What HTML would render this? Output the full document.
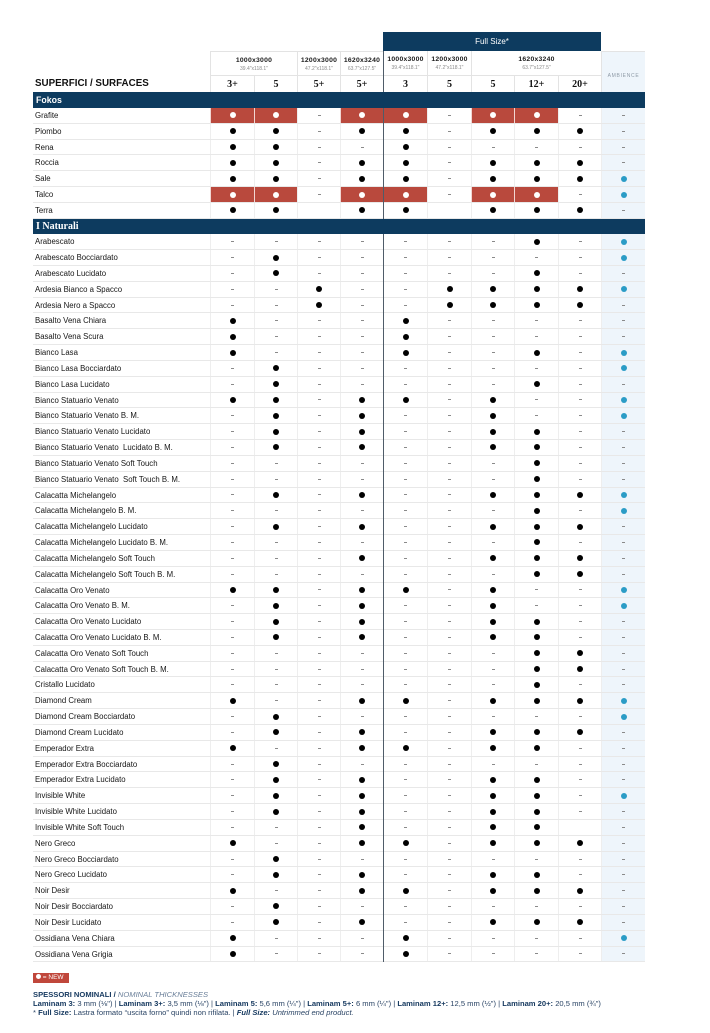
<!DOCTYPE html>
<html><head><meta charset="utf-8">
<style>
*{margin:0;padding:0;box-sizing:border-box}
body{width:710px;height:1033px;background:#fff;position:relative;overflow:hidden;font-family:"Liberation Sans",Arial,sans-serif;color:#111}
.abs{position:absolute}
.fs{left:383px;top:32px;width:218px;height:19px;background:#0d3b5f;color:#fff;font-size:8px;text-align:center;line-height:19px}
.sz{top:51px;height:24px;border-left:1px solid #e3e3e3;border-top:1px solid #e3e3e3;text-align:center}
.sz .a{font-size:6.8px;font-weight:bold;letter-spacing:0.25px;margin-top:5px;line-height:8px;color:#1a1a1a}
.sz .b{font-size:5px;color:#8a8a8a;line-height:7px;margin-top:1px}
.th{top:75px;height:17px;border-left:1px solid #e3e3e3;border-top:1px solid #e3e3e3;text-align:center;font-family:"Liberation Serif",serif;font-weight:bold;font-size:10px;line-height:17px;color:#111}
.amb{left:601px;top:51px;width:44px;height:41px;background:#eef5fb;border-left:1px solid #e3e3e3;border-top:1px solid #e3e3e3;font-size:5px;color:#8e9aa6;letter-spacing:0.7px;text-align:center;padding-top:21px}
.sup{left:35px;top:78px;font-size:9.8px;font-weight:bold;color:#111;line-height:12px}
#tb{position:absolute;left:33px;top:92px;width:612px}
.band{position:relative;z-index:2;background:#0d3b5f;color:#fff;font-weight:bold;padding-left:3px}
.row{display:flex;height:15.83px;border-bottom:1px solid #e8e8e8}
.row b{width:177px;flex:none;font-weight:normal;font-size:7.8px;line-height:16px;padding-left:2px;color:#161616;white-space:nowrap}
.row i{display:flex;flex:none;align-items:center;justify-content:center;border-left:1px solid #eeeeee;height:100%}
.row i:nth-of-type(1){width:44px}
.row i:nth-of-type(2){width:43px}
.row i:nth-of-type(3){width:43px}
.row i:nth-of-type(4){width:43px}
.row i:nth-of-type(5){width:44px}
.row i:nth-of-type(6){width:44px}
.row i:nth-of-type(7){width:43px}
.row i:nth-of-type(8){width:44px}
.row i:nth-of-type(9){width:43px}
.row i:nth-of-type(10){width:44px;background:#eef5fb}
.d::after,.r::after,.t::after{content:"";flex:none;display:block;width:6px;height:6px;border-radius:50%;background:#000}
.n::after{content:"";flex:none;display:block;width:3px;height:1px;background:#8a8a8a}
.row i.r{background:#b9493d;border-left:1px solid #f2d6d2}
.r::after{background:#fff}
.t::after{background:#2b9cc6}
.div{left:382.5px;top:51px;width:1.6px;height:911px;background:#4f5c69;z-index:1}
.ft{left:33px;color:#2a4465;white-space:nowrap}
.ft b{color:#173a60}
</style></head><body>

<div class="abs fs">Full Size*</div>

<div class="abs sz" style="left:210px;width:87px"><div class="a">1000x3000</div><div class="b">39.4"x118.1"</div></div>
<div class="abs sz" style="left:297px;width:43px"><div class="a">1200x3000</div><div class="b">47.2"x118.1"</div></div>
<div class="abs sz" style="left:340px;width:43px"><div class="a">1620x3240</div><div class="b">63.7"x127.5"</div></div>
<div class="abs sz" style="left:383px;width:44px;border-top:none"><div class="a">1000x3000</div><div class="b">39.4"x118.1"</div></div>
<div class="abs sz" style="left:427px;width:44px;border-top:none"><div class="a">1200x3000</div><div class="b">47.2"x118.1"</div></div>
<div class="abs sz" style="left:471px;width:130px;border-top:none"><div class="a">1620x3240</div><div class="b">63.7"x127.5"</div></div>

<div class="abs th" style="left:210px;width:44px">3+</div>
<div class="abs th" style="left:254px;width:43px">5</div>
<div class="abs th" style="left:297px;width:43px">5+</div>
<div class="abs th" style="left:340px;width:43px">5+</div>
<div class="abs th" style="left:383px;width:44px">3</div>
<div class="abs th" style="left:427px;width:44px">5</div>
<div class="abs th" style="left:471px;width:43px">5</div>
<div class="abs th" style="left:514px;width:44px">12+</div>
<div class="abs th" style="left:558px;width:43px">20+</div>
<div class="abs amb">AMBIENCE</div>

<div class="abs sup">SUPERFICI / SURFACES</div>

<div class="abs div"></div>

<div id="tb">
<div class="band" style="height:16px;font-size:8.8px;line-height:16px">Fokos</div>
<div class="row"><b>Grafite</b><i class="r"></i><i class="r"></i><i class="n"></i><i class="r"></i><i class="r"></i><i class="n"></i><i class="r"></i><i class="r"></i><i class="n"></i><i class="n"></i></div>
<div class="row"><b>Piombo</b><i class="d"></i><i class="d"></i><i class="n"></i><i class="d"></i><i class="d"></i><i class="n"></i><i class="d"></i><i class="d"></i><i class="d"></i><i class="n"></i></div>
<div class="row"><b>Rena</b><i class="d"></i><i class="d"></i><i class="n"></i><i class="n"></i><i class="d"></i><i class="n"></i><i class="n"></i><i class="n"></i><i class="n"></i><i class="n"></i></div>
<div class="row"><b>Roccia</b><i class="d"></i><i class="d"></i><i class="n"></i><i class="d"></i><i class="d"></i><i class="n"></i><i class="d"></i><i class="d"></i><i class="d"></i><i class="n"></i></div>
<div class="row"><b>Sale</b><i class="d"></i><i class="d"></i><i class="n"></i><i class="d"></i><i class="d"></i><i class="n"></i><i class="d"></i><i class="d"></i><i class="d"></i><i class="t"></i></div>
<div class="row"><b>Talco</b><i class="r"></i><i class="r"></i><i class="n"></i><i class="r"></i><i class="r"></i><i class="n"></i><i class="r"></i><i class="r"></i><i class="n"></i><i class="t"></i></div>
<div class="row"><b>Terra</b><i class="d"></i><i class="d"></i><i></i><i class="d"></i><i class="d"></i><i></i><i class="d"></i><i class="d"></i><i class="d"></i><i class="n"></i></div>
<div class="band" style="height:15.5px;font-family:'Liberation Serif',serif;font-size:10px;line-height:15.5px">I Naturali</div>
<div class="row"><b>Arabescato</b><i class="n"></i><i class="n"></i><i class="n"></i><i class="n"></i><i class="n"></i><i class="n"></i><i class="n"></i><i class="d"></i><i class="n"></i><i class="t"></i></div>
<div class="row"><b>Arabescato Bocciardato</b><i class="n"></i><i class="d"></i><i class="n"></i><i class="n"></i><i class="n"></i><i class="n"></i><i class="n"></i><i class="n"></i><i class="n"></i><i class="t"></i></div>
<div class="row"><b>Arabescato Lucidato</b><i class="n"></i><i class="d"></i><i class="n"></i><i class="n"></i><i class="n"></i><i class="n"></i><i class="n"></i><i class="d"></i><i class="n"></i><i class="n"></i></div>
<div class="row"><b>Ardesia Bianco a Spacco</b><i class="n"></i><i class="n"></i><i class="d"></i><i class="n"></i><i class="n"></i><i class="d"></i><i class="d"></i><i class="d"></i><i class="d"></i><i class="t"></i></div>
<div class="row"><b>Ardesia Nero a Spacco</b><i class="n"></i><i class="n"></i><i class="d"></i><i class="n"></i><i class="n"></i><i class="d"></i><i class="d"></i><i class="d"></i><i class="d"></i><i class="n"></i></div>
<div class="row"><b>Basalto Vena Chiara</b><i class="d"></i><i class="n"></i><i class="n"></i><i class="n"></i><i class="d"></i><i class="n"></i><i class="n"></i><i class="n"></i><i class="n"></i><i class="n"></i></div>
<div class="row"><b>Basalto Vena Scura</b><i class="d"></i><i class="n"></i><i class="n"></i><i class="n"></i><i class="d"></i><i class="n"></i><i class="n"></i><i class="n"></i><i class="n"></i><i class="n"></i></div>
<div class="row"><b>Bianco Lasa</b><i class="d"></i><i class="n"></i><i class="n"></i><i class="n"></i><i class="d"></i><i class="n"></i><i class="n"></i><i class="d"></i><i class="n"></i><i class="t"></i></div>
<div class="row"><b>Bianco Lasa Bocciardato</b><i class="n"></i><i class="d"></i><i class="n"></i><i class="n"></i><i class="n"></i><i class="n"></i><i class="n"></i><i class="n"></i><i class="n"></i><i class="t"></i></div>
<div class="row"><b>Bianco Lasa Lucidato</b><i class="n"></i><i class="d"></i><i class="n"></i><i class="n"></i><i class="n"></i><i class="n"></i><i class="n"></i><i class="d"></i><i class="n"></i><i class="n"></i></div>
<div class="row"><b>Bianco Statuario Venato</b><i class="d"></i><i class="d"></i><i class="n"></i><i class="d"></i><i class="d"></i><i class="n"></i><i class="d"></i><i class="n"></i><i class="n"></i><i class="t"></i></div>
<div class="row"><b>Bianco Statuario Venato B. M.</b><i class="n"></i><i class="d"></i><i class="n"></i><i class="d"></i><i class="n"></i><i class="n"></i><i class="d"></i><i class="n"></i><i class="n"></i><i class="t"></i></div>
<div class="row"><b>Bianco Statuario Venato Lucidato</b><i class="n"></i><i class="d"></i><i class="n"></i><i class="d"></i><i class="n"></i><i class="n"></i><i class="d"></i><i class="d"></i><i class="n"></i><i class="n"></i></div>
<div class="row"><b>Bianco Statuario Venato &nbsp;Lucidato B. M.</b><i class="n"></i><i class="d"></i><i class="n"></i><i class="d"></i><i class="n"></i><i class="n"></i><i class="d"></i><i class="d"></i><i class="n"></i><i class="n"></i></div>
<div class="row"><b>Bianco Statuario Venato Soft Touch</b><i class="n"></i><i class="n"></i><i class="n"></i><i class="n"></i><i class="n"></i><i class="n"></i><i class="n"></i><i class="d"></i><i class="n"></i><i class="n"></i></div>
<div class="row"><b>Bianco Statuario Venato &nbsp;Soft Touch B. M.</b><i class="n"></i><i class="n"></i><i class="n"></i><i class="n"></i><i class="n"></i><i class="n"></i><i class="n"></i><i class="d"></i><i class="n"></i><i class="n"></i></div>
<div class="row"><b>Calacatta Michelangelo</b><i class="n"></i><i class="d"></i><i class="n"></i><i class="d"></i><i class="n"></i><i class="n"></i><i class="d"></i><i class="d"></i><i class="d"></i><i class="t"></i></div>
<div class="row"><b>Calacatta Michelangelo B. M.</b><i class="n"></i><i class="n"></i><i class="n"></i><i class="n"></i><i class="n"></i><i class="n"></i><i class="n"></i><i class="d"></i><i class="n"></i><i class="t"></i></div>
<div class="row"><b>Calacatta Michelangelo Lucidato</b><i class="n"></i><i class="d"></i><i class="n"></i><i class="d"></i><i class="n"></i><i class="n"></i><i class="d"></i><i class="d"></i><i class="d"></i><i class="n"></i></div>
<div class="row"><b>Calacatta Michelangelo Lucidato B. M.</b><i class="n"></i><i class="n"></i><i class="n"></i><i class="n"></i><i class="n"></i><i class="n"></i><i class="n"></i><i class="d"></i><i class="n"></i><i class="n"></i></div>
<div class="row"><b>Calacatta Michelangelo Soft Touch</b><i class="n"></i><i class="n"></i><i class="n"></i><i class="d"></i><i class="n"></i><i class="n"></i><i class="d"></i><i class="d"></i><i class="d"></i><i class="n"></i></div>
<div class="row"><b>Calacatta Michelangelo Soft Touch B. M.</b><i class="n"></i><i class="n"></i><i class="n"></i><i class="n"></i><i class="n"></i><i class="n"></i><i class="n"></i><i class="d"></i><i class="d"></i><i class="n"></i></div>
<div class="row"><b>Calacatta Oro Venato</b><i class="d"></i><i class="d"></i><i class="n"></i><i class="d"></i><i class="d"></i><i class="n"></i><i class="d"></i><i class="n"></i><i class="n"></i><i class="t"></i></div>
<div class="row"><b>Calacatta Oro Venato B. M.</b><i class="n"></i><i class="d"></i><i class="n"></i><i class="d"></i><i class="n"></i><i class="n"></i><i class="d"></i><i class="n"></i><i class="n"></i><i class="t"></i></div>
<div class="row"><b>Calacatta Oro Venato Lucidato</b><i class="n"></i><i class="d"></i><i class="n"></i><i class="d"></i><i class="n"></i><i class="n"></i><i class="d"></i><i class="d"></i><i class="n"></i><i class="n"></i></div>
<div class="row"><b>Calacatta Oro Venato Lucidato B. M.</b><i class="n"></i><i class="d"></i><i class="n"></i><i class="d"></i><i class="n"></i><i class="n"></i><i class="d"></i><i class="d"></i><i class="n"></i><i class="n"></i></div>
<div class="row"><b>Calacatta Oro Venato Soft Touch</b><i class="n"></i><i class="n"></i><i class="n"></i><i class="n"></i><i class="n"></i><i class="n"></i><i class="n"></i><i class="d"></i><i class="d"></i><i class="n"></i></div>
<div class="row"><b>Calacatta Oro Venato Soft Touch B. M.</b><i class="n"></i><i class="n"></i><i class="n"></i><i class="n"></i><i class="n"></i><i class="n"></i><i class="n"></i><i class="d"></i><i class="d"></i><i class="n"></i></div>
<div class="row"><b>Cristallo Lucidato</b><i class="n"></i><i class="n"></i><i class="n"></i><i class="n"></i><i class="n"></i><i class="n"></i><i class="n"></i><i class="d"></i><i class="n"></i><i class="n"></i></div>
<div class="row"><b>Diamond Cream</b><i class="d"></i><i class="n"></i><i class="n"></i><i class="d"></i><i class="d"></i><i class="n"></i><i class="d"></i><i class="d"></i><i class="d"></i><i class="t"></i></div>
<div class="row"><b>Diamond Cream Bocciardato</b><i class="n"></i><i class="d"></i><i class="n"></i><i class="n"></i><i class="n"></i><i class="n"></i><i class="n"></i><i class="n"></i><i class="n"></i><i class="t"></i></div>
<div class="row"><b>Diamond Cream Lucidato</b><i class="n"></i><i class="d"></i><i class="n"></i><i class="d"></i><i class="n"></i><i class="n"></i><i class="d"></i><i class="d"></i><i class="d"></i><i class="n"></i></div>
<div class="row"><b>Emperador Extra</b><i class="d"></i><i class="n"></i><i class="n"></i><i class="d"></i><i class="d"></i><i class="n"></i><i class="d"></i><i class="d"></i><i class="n"></i><i class="n"></i></div>
<div class="row"><b>Emperador Extra Bocciardato</b><i class="n"></i><i class="d"></i><i class="n"></i><i class="n"></i><i class="n"></i><i class="n"></i><i class="n"></i><i class="n"></i><i class="n"></i><i class="n"></i></div>
<div class="row"><b>Emperador Extra Lucidato</b><i class="n"></i><i class="d"></i><i class="n"></i><i class="d"></i><i class="n"></i><i class="n"></i><i class="d"></i><i class="d"></i><i class="n"></i><i class="n"></i></div>
<div class="row"><b>Invisible White</b><i class="n"></i><i class="d"></i><i class="n"></i><i class="d"></i><i class="n"></i><i class="n"></i><i class="d"></i><i class="d"></i><i class="n"></i><i class="t"></i></div>
<div class="row"><b>Invisible White Lucidato</b><i class="n"></i><i class="d"></i><i class="n"></i><i class="d"></i><i class="n"></i><i class="n"></i><i class="d"></i><i class="d"></i><i class="n"></i><i class="n"></i></div>
<div class="row"><b>Invisible White Soft Touch</b><i class="n"></i><i class="n"></i><i class="n"></i><i class="d"></i><i class="n"></i><i class="n"></i><i class="d"></i><i class="d"></i><i></i><i class="n"></i></div>
<div class="row"><b>Nero Greco</b><i class="d"></i><i class="n"></i><i class="n"></i><i class="d"></i><i class="d"></i><i class="n"></i><i class="d"></i><i class="d"></i><i class="d"></i><i class="n"></i></div>
<div class="row"><b>Nero Greco Bocciardato</b><i class="n"></i><i class="d"></i><i class="n"></i><i class="n"></i><i class="n"></i><i class="n"></i><i class="n"></i><i class="n"></i><i class="n"></i><i class="n"></i></div>
<div class="row"><b>Nero Greco Lucidato</b><i class="n"></i><i class="d"></i><i class="n"></i><i class="d"></i><i class="n"></i><i class="n"></i><i class="d"></i><i class="d"></i><i class="n"></i><i class="n"></i></div>
<div class="row"><b>Noir Desir</b><i class="d"></i><i class="n"></i><i class="n"></i><i class="d"></i><i class="d"></i><i class="n"></i><i class="d"></i><i class="d"></i><i class="d"></i><i class="n"></i></div>
<div class="row"><b>Noir Desir Bocciardato</b><i class="n"></i><i class="d"></i><i class="n"></i><i class="n"></i><i class="n"></i><i class="n"></i><i class="n"></i><i class="n"></i><i class="n"></i><i class="n"></i></div>
<div class="row"><b>Noir Desir Lucidato</b><i class="n"></i><i class="d"></i><i class="n"></i><i class="d"></i><i class="n"></i><i class="n"></i><i class="d"></i><i class="d"></i><i class="d"></i><i class="n"></i></div>
<div class="row"><b>Ossidiana Vena Chiara</b><i class="d"></i><i class="n"></i><i class="n"></i><i class="n"></i><i class="d"></i><i class="n"></i><i class="n"></i><i class="n"></i><i class="n"></i><i class="t"></i></div>
<div class="row"><b>Ossidiana Vena Grigia</b><i class="d"></i><i class="n"></i><i class="n"></i><i class="n"></i><i class="d"></i><i class="n"></i><i class="n"></i><i class="n"></i><i class="n"></i><i class="n"></i></div>
</div>

<div class="abs" style="left:33px;top:973px;width:36px;height:10px;background:#c0473b;color:#fff;font-size:6.5px;line-height:10px;padding-left:3px;white-space:nowrap"><span style="display:inline-block;width:5px;height:5px;border-radius:50%;background:#fff;vertical-align:0px"></span> = NEW</div>

<div class="abs ft" style="top:990px;font-size:7.6px;line-height:9px"><b>SPESSORI NOMINALI</b> <b>/</b> <i style="color:#6a7f99">NOMINAL THICKNESSES</i></div>
<div class="abs ft" style="top:999px;font-size:7.6px;line-height:9px"><b>Laminam 3:</b> 3 mm (⅛") | <b>Laminam 3+:</b> 3,5 mm (⅛") | <b>Laminam 5:</b> 5,6 mm (¼") | <b>Laminam 5+:</b> 6 mm (¼") | <b>Laminam 12+:</b> 12,5 mm (½") | <b>Laminam 20+:</b> 20,5 mm (¾")</div>
<div class="abs ft" style="top:1008px;font-size:7.6px;line-height:9px">* <b>Full Size:</b> Lastra formato “uscita forno” quindi non rifilata. | <i><b>Full Size:</b> Untrimmed end product.</i></div>

</body></html>
